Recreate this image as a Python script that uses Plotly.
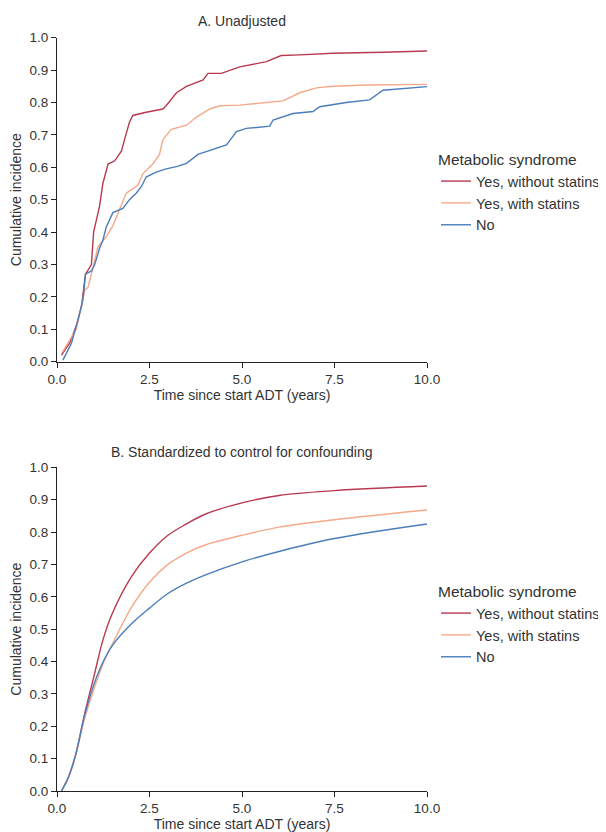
import plotly.graph_objects as go

# ---------------- Panel A: Unadjusted ----------------
a_red_t = [0.12, 0.34, 0.52, 0.66, 0.77, 0.93, 0.99, 1.15, 1.24, 1.38, 1.56, 1.74, 1.86, 1.96, 2.05, 2.41, 2.86, 2.95,
           3.23, 3.50, 3.95, 4.08, 4.44, 4.94, 5.66, 6.06, 6.56, 7.46, 8.81, 10.0]
a_red_v = [0.02, 0.057, 0.11, 0.17, 0.27, 0.30, 0.40, 0.48, 0.55, 0.61, 0.62, 0.65, 0.70, 0.74, 0.76, 0.77, 0.78, 0.79,
           0.83, 0.85, 0.87, 0.89, 0.89, 0.91, 0.926, 0.945, 0.947, 0.952, 0.955, 0.959]

a_orange_t = [0.15, 0.52, 0.75, 0.84, 0.97, 1.11, 1.33, 1.51, 1.69, 1.87, 2.19, 2.32, 2.59, 2.77, 2.86, 3.09, 3.50,
              3.77, 4.13, 4.40, 4.94, 5.57, 6.11, 6.56, 7.01, 7.46, 8.36, 10.0]
a_orange_v = [0.03, 0.10, 0.22, 0.23, 0.29, 0.355, 0.385, 0.42, 0.47, 0.52, 0.545, 0.58, 0.61, 0.64, 0.685, 0.717, 0.73,
              0.755, 0.78, 0.79, 0.792, 0.80, 0.805, 0.83, 0.845, 0.85, 0.854, 0.856]

a_blue_t = [0.16, 0.39, 0.57, 0.70, 0.77, 0.93, 1.02, 1.15, 1.24, 1.33, 1.51, 1.65, 1.78, 1.96, 2.14, 2.28, 2.41, 2.68,
            2.95, 3.23, 3.50, 3.81, 4.13, 4.58, 4.85, 5.12, 5.75, 5.84, 6.38, 6.92, 7.10, 7.82, 8.45, 8.81, 10.0]
a_blue_v = [0.005, 0.057, 0.13, 0.19, 0.27, 0.28, 0.30, 0.35, 0.375, 0.415, 0.46, 0.468, 0.473, 0.50, 0.52, 0.54, 0.57,
            0.585, 0.595, 0.602, 0.612, 0.64, 0.653, 0.669, 0.71, 0.72, 0.727, 0.746, 0.766, 0.772, 0.787, 0.80, 0.808,
            0.838, 0.849]

# ---------------- Panel B: Standardized ----------------
b_t = [0.12, 0.3, 0.5, 0.75, 1.0, 1.25, 1.5, 2.0, 2.5, 3.0, 3.5, 4.0, 5.0, 6.0, 7.5, 10.0]
b_red_v = [0.0, 0.04, 0.11, 0.24, 0.355, 0.47, 0.55, 0.66, 0.735, 0.79, 0.825, 0.855, 0.89, 0.913, 0.928, 0.942]
b_orange_v = [0.0, 0.04, 0.11, 0.225, 0.315, 0.395, 0.455, 0.565, 0.645, 0.70, 0.735, 0.76, 0.79, 0.815, 0.838, 0.868]
b_blue_v = [0.0, 0.04, 0.11, 0.235, 0.33, 0.40, 0.45, 0.515, 0.565, 0.61, 0.642, 0.667, 0.708, 0.74, 0.78, 0.825]

names = ["Yes, without statins", "Yes, with statins", "No"]
colors = ["#B8394F", "#F4A98A", "#4A7DBA"]

x_ticks = [0.0, 2.5, 5.0, 7.5, 10.0]
x_ticktext = ["0.0", "2.5", "5.0", "7.5", "10.0"]
y_ticks = [0.0, 0.1, 0.2, 0.3, 0.4, 0.5, 0.6, 0.7, 0.8, 0.9, 1.0]
y_ticktext = ["0.0", "0.1", "0.2", "0.3", "0.4", "0.5", "0.6", "0.7", "0.8", "0.9", "1.0"]

# page body has an 8px margin; figure coordinates = page coordinates - OFF
OFF = 8
W, H = 606 - OFF, 832 - OFF
FONT = "Liberation Sans, Arial, sans-serif"
TXT = "#333333"

fig = go.Figure()

a_sets = [(a_red_t, a_red_v), (a_orange_t, a_orange_v), (a_blue_t, a_blue_v)]
for (t, v), n, c in zip(a_sets, names, colors):
    fig.add_trace(go.Scatter(x=t, y=v, mode="lines", name=n, line=dict(color=c, width=1.4),
                             xaxis="x", yaxis="y", legend="legend"))

b_sets = [b_red_v, b_orange_v, b_blue_v]
for v, n, c in zip(b_sets, names, colors):
    fig.add_trace(go.Scatter(x=b_t, y=v, mode="lines", name=n,
                             line=dict(color=c, width=1.4, shape="spline", smoothing=1.0),
                             xaxis="x2", yaxis="y2", legend="legend2"))


def px_x(p):
    return (p - OFF) / W


def px_y(p):
    return 1 - (p - OFF) / H


axis_common = dict(showline=True, linecolor="#222222", linewidth=1, ticks="outside", ticklen=5, tickwidth=1,
                   tickcolor="#222222", showgrid=False, zeroline=False, automargin=False,
                   tickfont=dict(family=FONT, size=13.5, color=TXT))
TITLE_SIZE = 14

xdom = [px_x(57), px_x(427)]
fig.update_layout(
    width=W, height=H, plot_bgcolor="white", paper_bgcolor="white",
    margin=dict(l=0, r=0, t=0, b=0, pad=0, autoexpand=False),
    font=dict(family=FONT, color=TXT),
    xaxis=dict(domain=xdom, range=[0, 10], tickvals=x_ticks, ticktext=x_ticktext, anchor="y",
               title=dict(text="Time since start ADT (years)", font=dict(size=TITLE_SIZE, color=TXT), standoff=2),
               **axis_common),
    yaxis=dict(domain=[px_y(361.7), px_y(37.7)], range=[0, 1], tickvals=y_ticks, ticktext=y_ticktext, anchor="x",
               title=dict(text="Cumulative incidence", font=dict(size=TITLE_SIZE, color=TXT), standoff=4),
               **axis_common),
    xaxis2=dict(domain=xdom, range=[0, 10], tickvals=x_ticks, ticktext=x_ticktext, anchor="y2",
                title=dict(text="Time since start ADT (years)", font=dict(size=TITLE_SIZE, color=TXT), standoff=2),
                **axis_common),
    yaxis2=dict(domain=[px_y(791), px_y(467.3)], range=[0, 1], tickvals=y_ticks, ticktext=y_ticktext, anchor="x2",
                title=dict(text="Cumulative incidence", font=dict(size=TITLE_SIZE, color=TXT), standoff=4),
                **axis_common),
    legend=dict(x=px_x(436), y=px_y(145), xanchor="left", yanchor="top",
                title=dict(text="Metabolic syndrome", font=dict(size=15.5, color=TXT)),
                font=dict(size=14.5, color=TXT), bgcolor="rgba(0,0,0,0)", tracegroupgap=0),
    legend2=dict(x=px_x(436), y=px_y(577), xanchor="left", yanchor="top",
                 title=dict(text="Metabolic syndrome", font=dict(size=15.5, color=TXT)),
                 font=dict(size=14.5, color=TXT), bgcolor="rgba(0,0,0,0)", tracegroupgap=0),
    annotations=[
        dict(text="A. Unadjusted", x=0.5, xref="x domain", y=px_y(21), yref="paper", showarrow=False,
             xanchor="center", yanchor="middle", font=dict(size=TITLE_SIZE, color=TXT)),
        dict(text="B. Standardized to control for confounding", x=0.5, xref="x2 domain", y=px_y(452), yref="paper",
             showarrow=False, xanchor="center", yanchor="middle", font=dict(size=TITLE_SIZE, color=TXT)),
    ],
)

fig.write_html("out.html")
